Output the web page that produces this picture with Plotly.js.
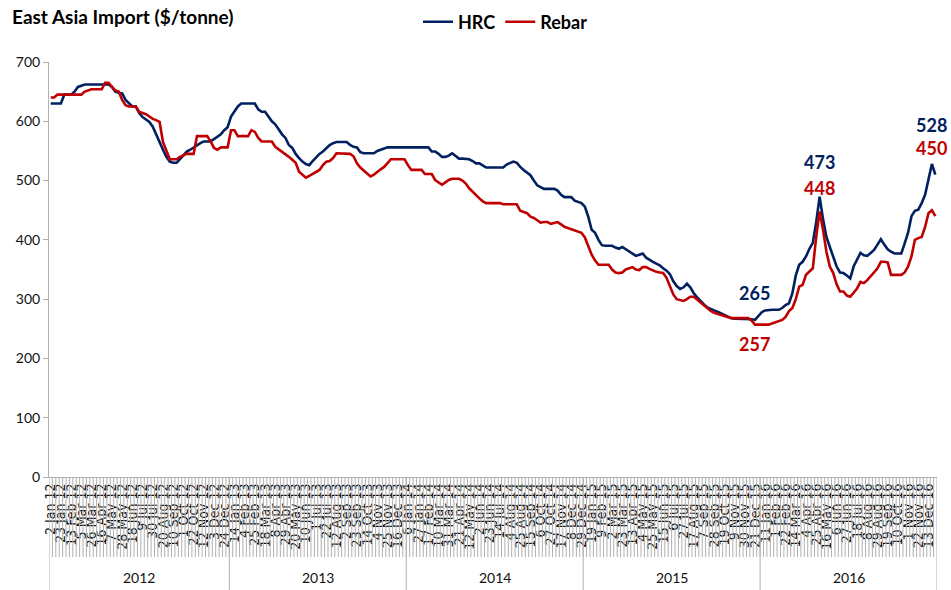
<!DOCTYPE html>
<html>
<head>
<meta charset="utf-8">
<script src="https://cdn.plot.ly/plotly-3.0.1.min.js"></script>
<style>html,body{margin:0;padding:0;background:#fff;}#chart{width:951px;height:590px;}</style>
</head>
<body>
<div id="chart"></div>
<script>
// Weekly prices, 2 Jan 2012 .. 26 Dec 2016 (261 weeks)
const hrc = [
630,630,630,630,645,645,645,650,658,660,
662,662,662,662,662,662,662,662,658,650,
648,647,636,630,625,625,614,607,603,599,
591,577,565,552,540,532,530,530,536,543,
549,552,556,560,563,566,566,566,570,574,
578,585,590,608,616,625,630,630,630,630,
630,620,616,616,608,600,595,586,578,572,
560,555,545,538,532,528,526,533,540,545,
549,555,560,563,565,565,565,565,560,557,
556,548,546,546,546,546,550,552,553,556,
556,556,556,556,556,556,556,556,556,556,
556,556,549,549,545,540,540,542,546,542,
537,537,536,536,533,529,529,526,522,522,
522,522,522,522,527,530,532,530,523,518,
513,509,500,492,489,486,486,486,486,483,
476,472,472,472,466,464,462,456,439,417,
412,400,391,390,390,390,387,385,388,384,
380,376,373,375,377,370,366,363,360,357,
352,348,342,330,322,317,320,326,320,310,
303,296,291,286,283,281,279,276,273,270,
268,267,267,267,267,267,266,265,271,278,
281,282,282,282,282,285,290,293,310,340,
358,363,372,385,395,430,473,435,405,388,
372,355,345,344,340,335,355,368,378,374,
373,378,383,392,401,392,384,380,377,377,
377,394,412,440,449,451,462,476,504,528,
510];

const rebar = [
640,640,645,645,645,645,645,645,645,645,
650,652,654,654,654,654,665,665,658,652,
650,636,627,625,625,625,616,614,612,608,
604,602,599,565,550,536,536,536,540,543,
545,545,545,575,575,575,575,566,555,552,
556,556,556,585,585,575,575,575,575,585,
582,572,566,566,566,566,557,553,549,545,
540,535,530,515,510,505,508,511,515,518,
526,532,533,538,546,546,546,546,545,541,
529,522,517,512,507,510,515,519,523,530,
536,536,536,536,536,526,518,518,518,518,
511,511,511,501,497,493,497,501,503,503,
503,500,495,487,481,476,470,465,462,462,
462,462,462,460,460,460,460,460,449,447,
445,439,437,433,429,430,430,427,428,430,
426,422,420,418,416,414,412,404,390,375,
365,358,358,358,358,350,345,344,345,350,
352,354,350,349,354,354,351,348,346,345,
344,336,322,308,300,299,297,300,304,304,
299,294,290,285,280,277,275,273,271,270,
268,268,268,268,268,268,264,257,257,257,
257,257,259,261,263,265,270,280,285,300,
321,324,341,346,352,405,448,417,380,355,
344,325,313,313,306,304,312,318,329,327,
332,338,345,352,363,363,362,341,341,341,
341,345,355,372,400,403,405,422,445,450,
440];

// every third week is labelled
const tickLabels = [
"2 Jan 12","23 Jan 12","13 Feb 12","5 Mar 12","26 Mar 12","16 Apr 12","7 May 12","28 May 12","18 Jun 12","9 Jul 12","30 Jul 12","20 Aug 12","10 Sep 12","1 Oct 12","22 Oct 12","12 Nov 12","3 Dec 12","24 Dec 12",
"14 Jan 13","4 Feb 13","25 Feb 13","18 Mar 13","8 Apr 13","29 Apr 13","20 May 13","10 Jun 13","1 Jul 13","22 Jul 13","12 Aug 13","2 Sep 13","23 Sep 13","14 Oct 13","4 Nov 13","25 Nov 13","16 Dec 13",
"6 Jan 14","27 Jan 14","17 Feb 14","10 Mar 14","31 Mar 14","21 Apr 14","12 May 14","2 Jun 14","23 Jun 14","14 Jul 14","4 Aug 14","25 Aug 14","15 Sep 14","6 Oct 14","27 Oct 14","17 Nov 14","8 Dec 14","29 Dec 14",
"19 Jan 15","9 Feb 15","2 Mar 15","23 Mar 15","13 Apr 15","4 May 15","25 May 15","15 Jun 15","6 Jul 15","27 Jul 15","17 Aug 15","7 Sep 15","28 Sep 15","19 Oct 15","9 Nov 15","30 Nov 15","21 Dec 15",
"11 Jan 16","1 Feb 16","22 Feb 16","14 Mar 16","4 Apr 16","25 Apr 16","16 May 16","6 Jun 16","27 Jun 16","18 Jul 16","8 Aug 16","29 Aug 16","19 Sep 16","10 Oct 16","1 Nov 16","22 Nov 16","13 Dec 16"];

const years = ["2012","2013","2014","2015","2016"];
const yearWeeks = [53,52,52,52,52];

const NAVY = "#002060", RED = "#C00000", AX = "#B0B0B0";
const FONT = "Lato, Carlito, Calibri, sans-serif";
const n = hrc.length;
const weeks = hrc.map((_, i) => i);
const tickvals = tickLabels.map((_, k) => k * 3);

// label-area grid lines (one per category) and year dividers
let catPath = "";
for (let i = 0; i < n - 1; i++) {
  catPath += "M" + (i + 0.5) + ",0 L" + (i + 0.5) + ",-0.193 ";
}
const shapes = [{type:"path", xref:"x", yref:"paper", path:catPath, line:{color:AX, width:1}}];
let start = -0.5;
const annotations = [];
years.forEach((y, k) => {
  const end = start + yearWeeks[k];
  shapes.push({type:"line", xref:"x", yref:"paper", x0:start, x1:start, y0:0, y1:-0.275, line:{color:AX, width:1}});
  annotations.push({xref:"x", yref:"paper", x:(start + end) / 2, y:-0.243, yanchor:"middle", text:y, showarrow:false,
    font:{family:FONT, size:14, color:"#111"}});
  start = end;
});
shapes.push({type:"line", xref:"x", yref:"paper", x0:start, x1:start, y0:0, y1:-0.275, line:{color:AX, width:1}});

// value callouts anchored to data points
function callout(series, idx, color, shift) {
  return {xref:"x", yref:"y", x:idx, y:series[idx], text:"<b>" + series[idx] + "</b>", showarrow:false,
    yshift:shift, font:{family:FONT, size:18, color:color}};
}
annotations.push(callout(hrc, 207, NAVY, 27));
annotations.push(callout(rebar, 207, RED, -19));
annotations.push(callout(hrc, 226, NAVY, 35));
annotations.push(callout(rebar, 226, RED, 23));
annotations.push(callout(hrc, 259, NAVY, 39));
annotations.push(callout(rebar, 259, RED, 62));

const traces = [
  {x:weeks, y:hrc, type:"scatter", mode:"lines", name:"HRC", line:{color:NAVY, width:2.6}},
  {x:weeks, y:rebar, type:"scatter", mode:"lines", name:"Rebar", line:{color:RED, width:2.6}}
];

const layout = {
  width:951, height:590,
  margin:{l:49, r:14, t:62, b:113},
  paper_bgcolor:"#fff", plot_bgcolor:"#fff",
  font:{family:FONT, color:"#111"},
  title:{text:"<b>East Asia Import ($/tonne)</b>", xref:"container", yref:"container",
    x:12/951, xanchor:"left", y:1 - 17/590, yanchor:"middle",
    font:{family:FONT, size:19, color:"#000"}},
  showlegend:true,
  legend:{orientation:"h", xref:"container", yref:"container", x:418/951, xanchor:"left",
    y:1 - 22/590, yanchor:"middle", itemwidth:30,
    font:{family:FONT, size:18, color:"#000", weight:"bold"}},
  xaxis:{
    range:[-0.5, n - 0.5], showgrid:false, zeroline:false,
    showline:true, linecolor:AX, linewidth:1,
    tickmode:"array", tickvals:tickvals, ticktext:tickLabels, tickangle:-90,
    ticks:"", tickfont:{family:"Liberation Sans Narrow, DejaVu Sans Condensed, Arial Narrow, sans-serif", size:14, color:"#111"},
    fixedrange:true
  },
  yaxis:{
    range:[0, 700], dtick:100, tick0:0, showgrid:false, zeroline:false,
    showline:true, linecolor:AX, linewidth:1, ticks:"outside", ticklen:5, tickcolor:AX,
    tickfont:{family:FONT, size:14, color:"#111"},
    fixedrange:true
  },
  shapes:shapes,
  annotations:annotations
};

Plotly.newPlot("chart", traces, layout, {displayModeBar:false, staticPlot:true});
</script>
</body>
</html>
